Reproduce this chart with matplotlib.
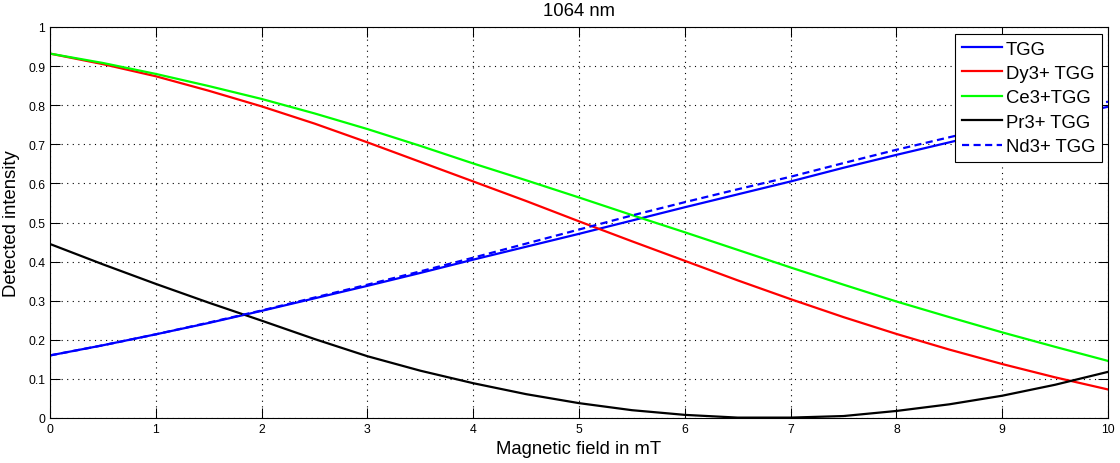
import numpy as np
import matplotlib
matplotlib.use('Agg')
import matplotlib.pyplot as plt

plt.rcParams['font.family'] = ['Liberation Sans', 'DejaVu Sans']

# field values (mT) and intensities
field = np.arange(0, 10.5, 0.5)

tgg = [0.160, 0.186, 0.214, 0.243, 0.274, 0.306, 0.338, 0.371, 0.405, 0.438, 0.471,
       0.505, 0.539, 0.572, 0.605, 0.640, 0.673, 0.705, 0.737, 0.767, 0.796]
dy_tgg = [0.932, 0.905, 0.874, 0.837, 0.797, 0.753, 0.705, 0.655, 0.605, 0.555, 0.503,
          0.452, 0.402, 0.352, 0.304, 0.258, 0.215, 0.175, 0.138, 0.104, 0.073]
ce_tgg = [0.932, 0.908, 0.880, 0.849, 0.816, 0.779, 0.739, 0.696, 0.651, 0.608, 0.564,
          0.519, 0.475, 0.430, 0.385, 0.341, 0.298, 0.258, 0.219, 0.182, 0.146]
pr_tgg = [0.445, 0.393, 0.343, 0.295, 0.249, 0.202, 0.158, 0.121, 0.089, 0.061, 0.038,
          0.020, 0.008, 0.001, 0.001, 0.005, 0.018, 0.035, 0.057, 0.085, 0.118]
nd_tgg = [0.160, 0.186, 0.214, 0.244, 0.275, 0.308, 0.341, 0.375, 0.410, 0.446, 0.482,
          0.518, 0.552, 0.585, 0.617, 0.652, 0.686, 0.718, 0.750, 0.780, 0.809]

xticks = list(range(0, 11))
yticks = [0, 0.1, 0.2, 0.3, 0.4, 0.5, 0.6, 0.7, 0.8, 0.9, 1]
ytick_labels = ['0', '0.1', '0.2', '0.3', '0.4', '0.5', '0.6', '0.7', '0.8', '0.9', '1']

fig = plt.figure(figsize=(11.2, 4.64), dpi=100)
ax = fig.add_axes([50 / 1120, 45 / 464, 1058 / 1120, 391 / 464])

lw = 1.6
ax.plot(field, tgg, color=(0, 0, 1), lw=lw, label='TGG')
ax.plot(field, dy_tgg, color=(1, 0, 0), lw=lw, label='Dy3+ TGG')
ax.plot(field, ce_tgg, color=(0, 1, 0), lw=lw, label='Ce3+TGG')
ax.plot(field, pr_tgg, color='black', lw=lw, label='Pr3+ TGG')
ax.plot(field, nd_tgg, color=(0, 0, 1), lw=lw, ls=(0, (3.2, 2)), label='Nd3+ TGG')

ax.set_xlim(0, 10)
ax.set_ylim(0, 1)
ax.set_xticks(xticks)
ax.set_yticks(yticks)
ax.set_yticklabels(ytick_labels)
ax.tick_params(direction='in', length=7.5, width=0.75, labelsize=8.8,
               top=True, right=True, pad=3.5)
for s in ax.spines.values():
    s.set_linewidth(0.8)

ax.set_axisbelow(True)
ax.grid(True, color='black', ls=(0, (1, 4)), lw=0.8)

ax.set_title('1064 nm', fontsize=13.3, y=1.041, va='center', pad=0)
ax.set_xlabel('Magnetic field in mT', fontsize=13.3, va='center')
ax.xaxis.set_label_coords(0.5, -0.079)
ax.set_ylabel('Detected intensity', fontsize=13.3, va='center')
ax.yaxis.set_label_coords(-0.036, 0.5)

leg = ax.legend(loc='upper right', bbox_to_anchor=(0.9943, 0.982), borderaxespad=0,
                fontsize=13.3, handlelength=2.2, handletextpad=0.2, labelspacing=0.4,
                borderpad=0.35, fancybox=False, framealpha=1, edgecolor='black')
leg.get_frame().set_linewidth(0.8)

fig.savefig('out.png', dpi=100)
